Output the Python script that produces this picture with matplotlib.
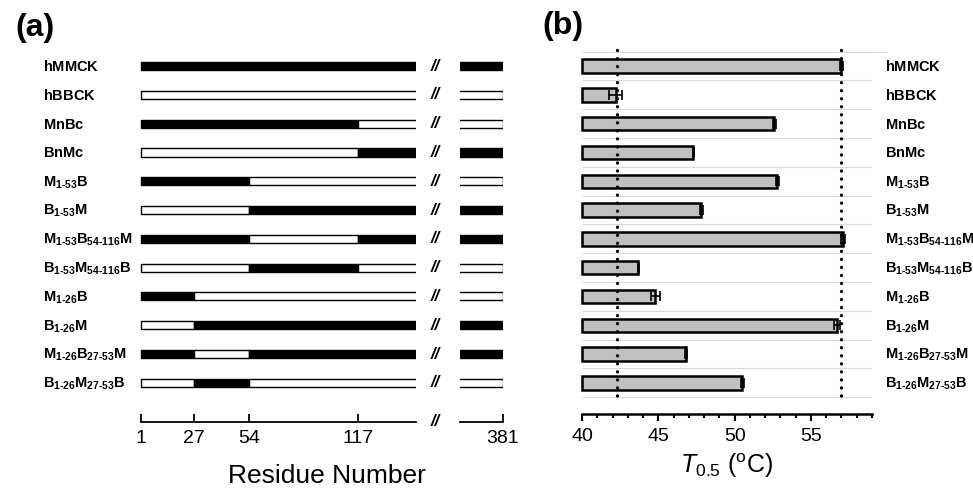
import numpy as np
import matplotlib
matplotlib.use('Agg')
import matplotlib.pyplot as plt
from matplotlib import transforms

plt.rcParams['font.family'] = ['Liberation Sans', 'DejaVu Sans']
plt.rcParams['mathtext.fontset'] = 'custom'
plt.rcParams['mathtext.rm'] = 'Liberation Sans'
plt.rcParams['mathtext.it'] = 'Liberation Sans:italic'
plt.rcParams['mathtext.bf'] = 'Liberation Sans:bold'

# constructs (top to bottom) and their make-up over the four regions
# regions: 1-26, 27-53, 54-116, 117-381 ; M = muscle (black), B = brain (white)
constructs = ['hMMCK', 'hBBCK', 'MnBc', 'BnMc',
              'M_{1‐53}B', 'B_{1‐53}M', 'M_{1‐53}B_{54‐116}M', 'B_{1‐53}M_{54‐116}B',
              'M_{1‐26}B', 'B_{1‐26}M', 'M_{1‐26}B_{27‐53}M', 'B_{1‐26}M_{27‐53}B']
composition = ['MMMM', 'BBBB', 'MMMB', 'BBBM',
               'MMBB', 'BBMM', 'MMBM', 'BBMB',
               'MBBB', 'BMMM', 'MBMM', 'BMBB']
region_starts = [1, 27, 54, 117]
region_end = 381
residue_ticks = [1, 27, 54, 117]

# T0.5 values (deg C) and errors
t05 = [57.0, 42.2, 52.6, 47.3, 52.8, 47.8, 57.1, 43.7, 44.8, 56.7, 46.8, 50.5]
t05_err = [0.1, 0.4, 0.1, 0.05, 0.1, 0.1, 0.1, 0.05, 0.3, 0.2, 0.05, 0.1]
ref_t05 = [42.3, 56.95]

# schematic (non-linear) residue axis
res_pts = [-20, 1, 27, 54, 117, 381, 420]
pos_pts = [-42.8, 0, 53, 108, 217, 362, 383.4]
def fwd(x):
    return np.interp(x, res_pts, pos_pts)
def inv(x):
    return np.interp(x, pos_pts, res_pts)

W, H = 973, 492
fig = plt.figure(figsize=(W / 100, H / 100), dpi=100)

def box(l, t, r, b):
    return [l / W, 1 - b / H, (r - l) / W, (b - t) / H]

axL = fig.add_axes(box(139, 51.7, 416, 421.7))
axR = fig.add_axes(box(460, 51.7, 503.3, 421.7))
axB = fig.add_axes(box(582, 51.7, 872, 414))

rows = np.arange(len(constructs))
lab_size = 10.5

# ---- panel (a) ----
for ax in (axL, axR):
    ax.set_xscale('function', functions=(fwd, inv))
for i, comp in enumerate(composition):
    runs = []
    for k, c in enumerate(comp):
        if runs and runs[-1][0] == c:
            continue
        runs.append([c, region_starts[k]])
    ends = [r[1] for r in runs[1:]] + [region_end]
    for (c, s), e in zip(runs, ends):
        for ax in (axL, axR):
            ax.barh(i, e - s, left=s, height=0.28,
                    color='black' if c == 'M' else 'white',
                    edgecolor='black', linewidth=1.0)

axL.set_xlim(0, 222.6)
axR.set_xlim(302.7, 381.5)
for ax in (axL, axR):
    ax.set_ylim(12.35, -0.5)
    for s in ('top', 'left', 'right'):
        ax.spines[s].set_visible(False)
    ax.spines['bottom'].set_linewidth(1.3)
    ax.set_yticks([])
    ax.tick_params(axis='x', direction='in', length=6, width=1.3, labelsize=14, pad=6)
    ax.xaxis.set_minor_locator(matplotlib.ticker.NullLocator())
axL.spines['bottom'].set_bounds(1, 222.6)
axR.spines['bottom'].set_bounds(302.7, 381)
axL.set_xticks(residue_ticks)
axL.set_xticklabels([str(t) for t in residue_ticks])
axR.set_xticks([region_end])
axR.set_xticklabels([str(region_end)])

tr_lab = transforms.blended_transform_factory(axL.transAxes, axL.transData)
tr_brk = transforms.blended_transform_factory(fig.transFigure, axL.transData)
for i, name in enumerate(constructs):
    axL.text(-0.347, i + 0.17, r'$\mathbf{' + name + '}$', transform=tr_lab,
             ha='left', va='baseline', fontsize=lab_size)
    axL.text(435 / W, i, '//', transform=tr_brk, ha='center', va='center',
             fontsize=12, fontweight='bold', style='italic', clip_on=False)
axL.text(435 / W, 0, '//', transform=transforms.blended_transform_factory(fig.transFigure, axL.transAxes),
         ha='center', va='center', fontsize=12, fontweight='bold', style='italic', clip_on=False)
fig.text(327 / W, 1 - 476 / H, 'Residue Number', ha='center', va='center', fontsize=19)

# ---- panel (b) ----
axB.hlines(np.arange(-0.5, len(constructs)), 40, 59, color='#d9d9d9', lw=0.8, zorder=0)
axB.hlines(-0.5, 59, 60, color='#d9d9d9', lw=0.8, zorder=0, clip_on=False)
axB.barh(rows, np.array(t05) - 40, left=40, height=0.46, color='#c0c0c0',
         edgecolor='black', linewidth=1.8, clip_on=False, zorder=2)
axB.errorbar(t05, rows, xerr=t05_err, fmt='none', ecolor='black', elinewidth=1.2,
             capsize=3.5, capthick=1.2, zorder=3)
for x in ref_t05:
    axB.plot([x, x], [-0.55, 11.7], color='black', lw=2.4, linestyle=(0, (0.01, 2.4)),
             dash_capstyle='round', clip_on=False, zorder=4)
axB.set_xlim(40, 59)
axB.set_ylim(12.08, -0.5)
for s in ('top', 'left', 'right'):
    axB.spines[s].set_visible(False)
axB.spines['bottom'].set_linewidth(1.8)
axB.set_xticks([40, 45, 50, 55])
axB.set_xticks(np.arange(40, 60, 1), minor=True)
axB.tick_params(axis='x', which='major', direction='out', length=5, width=1.5, labelsize=14, pad=5)
axB.tick_params(axis='x', which='minor', direction='out', length=3, width=1.5)
axB.set_yticks([])
axB.set_xlabel(r'$T_{0.5}$ ($^{\rm o}$C)', fontsize=18, labelpad=5)
tr_labB = transforms.blended_transform_factory(axB.transAxes, axB.transData)
for i, name in enumerate(constructs):
    axB.text(1.045, i + 0.17, r'$\mathbf{' + name + '}$', transform=tr_labB,
             ha='left', va='baseline', fontsize=lab_size)

fig.text(15 / W, 1 - 28 / H, '(a)', ha='left', va='center', fontsize=23, fontweight='bold')
fig.text(542 / W, 1 - 26 / H, '(b)', ha='left', va='center', fontsize=23, fontweight='bold')

fig.savefig('out.png', dpi=100)
